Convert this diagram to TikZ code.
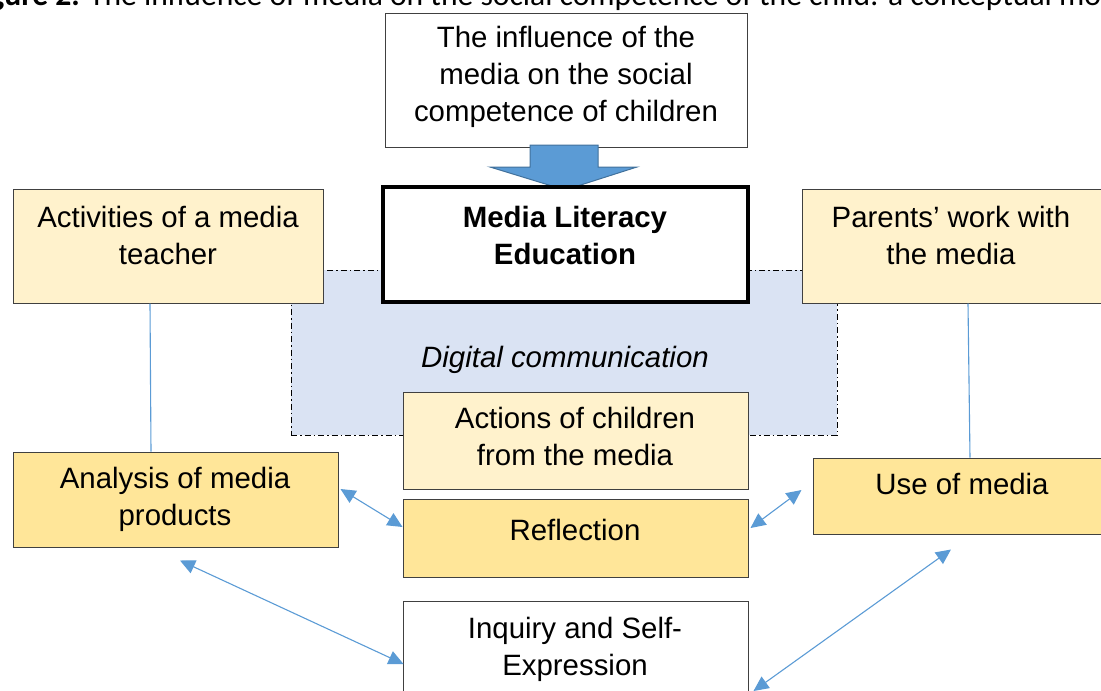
\documentclass[tikz,border=0pt]{standalone}
\usepackage{fontspec}
\setmainfont{Liberation Sans}
\newfontfamily\capfont{Carlito}
\usetikzlibrary{arrows.meta,calc}
\definecolor{lightyel}{HTML}{FFF2CC}
\definecolor{darkyel}{HTML}{FFE699}
\definecolor{regionblue}{HTML}{DAE3F3}
\definecolor{linkblue}{HTML}{5B9BD5}
\definecolor{arrowedge}{HTML}{41719C}
\tikzset{
  box/.style={draw=black!75, line width=1pt, inner sep=0pt, rectangle},
  txt/.style={font=\fontsize{29.4}{37}\selectfont, align=center, inner sep=0pt},
  link/.style={draw=linkblue, line width=1.1pt},
  dlink/.style={link, {Triangle[length=15pt,width=14pt]}-{Triangle[length=15pt,width=14pt]}, shorten <=0pt, shorten >=0pt},
}
\begin{document}
\begin{tikzpicture}[x=1pt,y=-1pt]
\useasboundingbox (0,0) rectangle (1101,691);
% caption (cut off)
\node[anchor=base east, inner sep=0pt, font=\capfont\fontsize{31.6}{37}\selectfont\bfseries] (fig) at (80,5) {Figure 2.};
\node[anchor=base west, inner sep=0pt, font=\capfont\fontsize{31.6}{37}\selectfont] (cap) at (89,5) {The influence of media on the social competence of the child: a conceptual model};
% region
\node[box, draw=black, line width=0.8pt, dash pattern=on 6pt off 3pt on 1.5pt off 3pt, fill=regionblue, minimum width=546pt, minimum height=165pt] (reg) at (564,352.5) {};
\node[txt, font=\fontsize{29.4}{37}\selectfont\itshape] (regt) at (565,360) {Digital communication};
% top box
\node[box, fill=white, minimum width=362pt, minimum height=134pt] (top) at (566,80) {};
\node[txt] (topt) at (566,76.5) {The influence of the\\media on the social\\competence of children};
% big arrow
\draw[fill=linkblue, draw=arrowedge, line width=1pt] (530,145) -- (598,145) -- (598,167) -- (637,167) -- (565,190) -- (490,167) -- (530,167) -- cycle;
% MLE box
\node[box, draw=black, fill=white, line width=3.2pt, minimum width=365pt, minimum height=115pt] (mle) at (565.5,244.5) {};
\node[txt, font=\fontsize{29.4}{37}\selectfont\bfseries] (mlet) at (565,235) {Media Literacy\\Education};
% activities
\node[box, fill=lightyel, minimum width=310pt, minimum height=114pt] (act) at (168,246) {};
\node[txt] (actt) at (168,235) {Activities of a media\\teacher};
% parents
\node[box, fill=lightyel, minimum width=301pt, minimum height=114pt] (par) at (952.5,246) {};
\node[txt] (part) at (951,235) {Parents’ work with\\the media};
% actions
\node[box, fill=lightyel, minimum width=345pt, minimum height=97pt] (acn) at (575.5,440.5) {};
\node[txt] (acnt) at (575,436) {Actions of children\\from the media};
% analysis
\node[box, fill=darkyel, minimum width=325pt, minimum height=95pt] (ana) at (175.5,499.5) {};
\node[txt] (anat) at (175,499.5) {Analysis of media\\products};
% reflection
\node[box, fill=darkyel, minimum width=345pt, minimum height=78pt] (ref) at (575.5,538) {};
\node[txt] (reft) at (575,530) {Reflection};
% use of media
\node[box, fill=darkyel, minimum width=290pt, minimum height=76pt] (use) at (958,496) {};
\node[txt] (uset) at (962,484) {Use of media};
% inquiry
\node[box, fill=white, minimum width=345pt, minimum height=124pt] (inq) at (575.5,663) {};
\node[txt] (inqt) at (575,649) {Inquiry and Self-\\Expression};
% vertical links
\draw[link] ($(act.south)+(-18,0)$) -- ($(ana.north)+(-24.5,0)$);
\draw[link] ($(par.south)+(15.5,0)$) -- ($(use.north)+(12,0)$);
% double arrows
\draw[dlink] ($(ana.east)+(2,-10.5)$) -- ($(ref.west)+(0,-11)$);
\draw[dlink] ($(ref.east)+(2,-10)$) -- ($(use.west)+(-11,-6)$);
\draw[dlink] ($(ana.south)+(4.5,13)$) -- ($(inq.west)+(1,1)$);
\draw[dlink] ($(inq.east)+(5,28)$) -- ($(use.south)+(-7,15)$);
\end{tikzpicture}
\end{document}
